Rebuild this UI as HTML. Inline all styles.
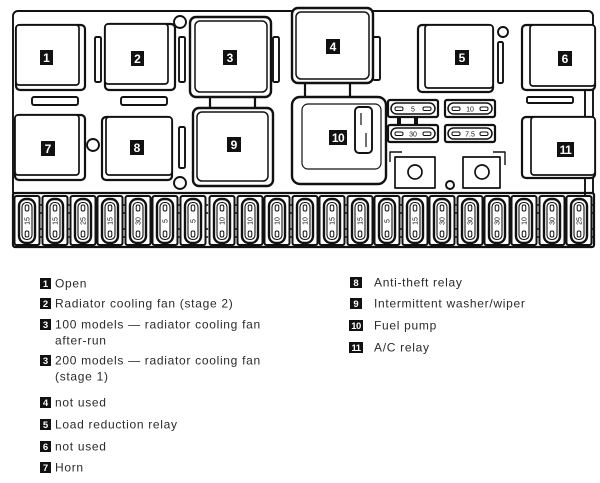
<!DOCTYPE html>
<html><head><meta charset="utf-8">
<style>
html,body{margin:0;padding:0;background:#fff;}
svg{display:block;}
.lg{font-family:"Liberation Sans",Arial,sans-serif;font-size:12px;fill:#2a2a2a;letter-spacing:0.7px;}
.lb{font-family:"Liberation Sans",Arial,sans-serif;font-weight:bold;fill:#fff;text-anchor:middle;}
.fz{font-family:"Liberation Sans",Arial,sans-serif;font-size:7px;fill:#111;text-anchor:middle;}
</style></head><body>
<svg width="600" height="483" viewBox="0 0 600 483" xmlns="http://www.w3.org/2000/svg">
<defs>
<g id="fuse">
  <rect x="-12.5" y="196" width="25" height="49" rx="2" fill="#fff" stroke="#111" stroke-width="2"/>
  <rect x="-8" y="199" width="16" height="44" rx="7" fill="#fff" stroke="#111" stroke-width="2.4"/>
  <rect x="-5" y="202.5" width="10" height="37" rx="4.5" fill="none" stroke="#111" stroke-width="1.1"/>
  <rect x="-1.8" y="205" width="3.6" height="6" rx="1.5" fill="none" stroke="#111" stroke-width="1"/>
  <rect x="-1.8" y="231" width="3.6" height="6" rx="1.5" fill="none" stroke="#111" stroke-width="1"/>
  <path d="M12.5,205h2.6M12.5,213h2.6M12.5,229h2.6M12.5,237h2.6" stroke="#111" stroke-width="1.6"/>
</g>
<g id="sfuse">
  <rect x="0" y="0" width="50" height="17" rx="2" fill="#fff" stroke="#111" stroke-width="2.2"/>
  <rect x="3" y="3" width="44" height="11" rx="5.5" fill="#fff" stroke="#111" stroke-width="1.5"/>
  <rect x="7" y="7" width="8" height="3.5" rx="1.5" fill="none" stroke="#111" stroke-width="1"/>
  <rect x="35" y="7" width="8" height="3.5" rx="1.5" fill="none" stroke="#111" stroke-width="1"/>
</g>
</defs>

<g fill="#fff" stroke="#111" stroke-width="1.9" stroke-linejoin="round">
  <!-- board -->
  <rect x="13" y="11" width="580" height="186" rx="5"/>
  <!-- fuse strip -->
  <rect x="13" y="193" width="581" height="54" rx="2" stroke-width="2.2"/>

  <!-- circles -->
  <circle cx="180" cy="22" r="6"/>
  <circle cx="93" cy="145" r="6"/>
  <circle cx="180" cy="183" r="6"/>
  <circle cx="503" cy="32" r="5"/>
  <circle cx="450" cy="185" r="4"/>

  <!-- slots -->
  <rect x="95" y="37" width="6" height="45" rx="1.5"/>
  <rect x="179" y="37" width="6" height="45" rx="1.5"/>
  <rect x="273" y="37" width="6" height="45" rx="1.5"/>
  <rect x="32" y="97" width="46" height="8" rx="2"/>
  <rect x="121" y="97" width="46" height="8" rx="2"/>
  <rect x="179" y="127" width="6" height="41" rx="1.5"/>
  <rect x="498" y="42" width="5" height="41" rx="1.5"/>
  <rect x="527" y="97" width="46" height="6" rx="1.5"/>
  <rect x="373" y="37" width="7" height="43" rx="1.5"/>
  <path d="M585,90 V117 M585,178 V195" fill="none"/>

  <!-- connectors -->
  <rect x="210" y="95" width="45" height="14" stroke-width="2.2"/>
  <rect x="305" y="81" width="45" height="17" stroke-width="2.2"/>

  <!-- relay 1 -->
  <rect x="16" y="25" width="69" height="65" rx="4" stroke-width="2.2"/>
  <rect x="16" y="25" width="63" height="60" rx="3" stroke-width="1.7"/>
  <!-- relay 2 -->
  <rect x="105" y="24" width="70" height="66" rx="4" stroke-width="2.2"/>
  <rect x="105" y="24" width="63" height="60" rx="3" stroke-width="1.7"/>
  <!-- relay 7 -->
  <rect x="15" y="115" width="70" height="65" rx="4" stroke-width="2.2"/>
  <rect x="15" y="115" width="64" height="60" rx="3" stroke-width="1.7"/>
  <!-- relay 8 -->
  <rect x="102" y="117" width="70" height="63" rx="4" stroke-width="2.2"/>
  <rect x="106" y="117" width="66" height="58" rx="3" stroke-width="1.7"/>
  <!-- relay 3 -->
  <rect x="190" y="17" width="81" height="80" rx="6" stroke-width="2.4"/>
  <rect x="195" y="21" width="72" height="71" rx="5" stroke-width="1.5"/>
  <!-- relay 9 -->
  <rect x="193" y="108" width="80" height="78" rx="6" stroke-width="2.4"/>
  <rect x="197" y="112" width="71" height="69" rx="5" stroke-width="1.5"/>
  <!-- relay 4 -->
  <rect x="292" y="8" width="81" height="75" rx="6" stroke-width="2.4"/>
  <rect x="296" y="12" width="73" height="67" rx="5" stroke-width="1.5"/>
  <!-- relay 10 -->
  <rect x="292" y="97" width="94" height="87" rx="8" stroke-width="2.4"/>
  <rect x="302" y="104" width="79" height="65" rx="6" stroke-width="1.2"/>
  <rect x="355" y="107" width="17" height="46" rx="4" stroke-width="1.9"/>
  <path d="M361,113 V125 M366,133 V147" fill="none" stroke-width="1.2"/>
  <!-- relay 5 -->
  <rect x="418" y="25" width="75" height="67" rx="4" stroke-width="2.2"/>
  <rect x="425" y="25" width="68" height="63" rx="3" stroke-width="1.7"/>
  <!-- relay 6 -->
  <rect x="522" y="25" width="73" height="65" rx="4" stroke-width="2.2"/>
  <rect x="530" y="25" width="65" height="61" rx="3" stroke-width="1.7"/>
  <!-- relay 11 -->
  <rect x="522" y="117" width="73" height="61" rx="4" stroke-width="2.2"/>
  <rect x="531" y="117" width="64" height="58" rx="3" stroke-width="1.7"/>

  <!-- sockets -->
  <rect x="395" y="157" width="40" height="31" stroke-width="1.7"/>
  <circle cx="415" cy="172" r="7" stroke-width="1.7"/>
  <rect x="463" y="157" width="37" height="31" stroke-width="1.7"/>
  <circle cx="482" cy="172" r="7" stroke-width="1.7"/>
  <path d="M402,152 H390 V162 M493,152 H505 V165" fill="none" stroke-width="1.4"/>
</g>

<!-- small fuses -->
<use href="#sfuse" x="388" y="100"/>
<use href="#sfuse" x="388" y="125"/>
<use href="#sfuse" x="445" y="100"/>
<use href="#sfuse" x="445" y="125"/>
<rect x="397" y="117" width="4" height="8" fill="#111"/>
<rect x="414" y="117" width="4" height="8" fill="#111"/>
<text class="fz" x="413" y="111.5">5</text>
<text class="fz" x="413" y="136.5">30</text>
<text class="fz" x="470" y="111.5">10</text>
<text class="fz" x="470" y="136.5">7.5</text>

<!-- fuses -->
<use href="#fuse" x="27"/><use href="#fuse" x="55"/><use href="#fuse" x="83"/>
<use href="#fuse" x="110"/><use href="#fuse" x="138"/><use href="#fuse" x="165"/>
<use href="#fuse" x="193"/><use href="#fuse" x="222"/><use href="#fuse" x="250"/>
<use href="#fuse" x="277"/><use href="#fuse" x="305"/><use href="#fuse" x="332"/>
<use href="#fuse" x="360"/><use href="#fuse" x="387"/><use href="#fuse" x="415"/>
<use href="#fuse" x="442"/><use href="#fuse" x="470"/><use href="#fuse" x="497"/>
<use href="#fuse" x="524"/><use href="#fuse" x="552"/><use href="#fuse" x="579"/>
<g class="fz">
<text transform="translate(29.5,221) rotate(-90)">15</text>
<text transform="translate(57.5,221) rotate(-90)">15</text>
<text transform="translate(85.5,221) rotate(-90)">25</text>
<text transform="translate(112.5,221) rotate(-90)">15</text>
<text transform="translate(140.5,221) rotate(-90)">30</text>
<text transform="translate(167.5,221) rotate(-90)">5</text>
<text transform="translate(195.5,221) rotate(-90)">5</text>
<text transform="translate(224.5,221) rotate(-90)">10</text>
<text transform="translate(252.5,221) rotate(-90)">10</text>
<text transform="translate(279.5,221) rotate(-90)">10</text>
<text transform="translate(307.5,221) rotate(-90)">10</text>
<text transform="translate(334.5,221) rotate(-90)">15</text>
<text transform="translate(362.5,221) rotate(-90)">15</text>
<text transform="translate(389.5,221) rotate(-90)">5</text>
<text transform="translate(417.5,221) rotate(-90)">15</text>
<text transform="translate(444.5,221) rotate(-90)">30</text>
<text transform="translate(472.5,221) rotate(-90)">30</text>
<text transform="translate(499.5,221) rotate(-90)">30</text>
<text transform="translate(526.5,221) rotate(-90)">10</text>
<text transform="translate(554.5,221) rotate(-90)">30</text>
<text transform="translate(581.5,221) rotate(-90)">25</text>
</g>

<!-- relay labels -->
<g fill="#111">
  <rect x="40" y="50" width="13" height="15"/>
  <rect x="131" y="51" width="13" height="15"/>
  <rect x="223" y="50" width="14" height="15"/>
  <rect x="326" y="39" width="14" height="15"/>
  <rect x="455" y="50" width="14" height="15"/>
  <rect x="558" y="51" width="14" height="15"/>
  <rect x="41" y="141" width="14" height="15"/>
  <rect x="130" y="140" width="14" height="15"/>
  <rect x="227" y="137" width="14" height="15"/>
  <rect x="329" y="130" width="18" height="15"/>
  <rect x="557" y="142" width="17" height="15"/>
</g>
<g class="lb" font-size="12">
  <text x="46.5" y="62">1</text>
  <text x="137.5" y="63">2</text>
  <text x="230" y="62">3</text>
  <text x="333" y="51">4</text>
  <text x="462" y="62">5</text>
  <text x="565" y="63">6</text>
  <text x="48" y="153">7</text>
  <text x="137" y="152">8</text>
  <text x="234" y="149">9</text>
  <text x="338" y="142" letter-spacing="-0.5">10</text>
  <text x="565.5" y="154" letter-spacing="-0.5">11</text>
</g>

<!-- legend squares -->
<g fill="#111">
  <rect x="40" y="278" width="11" height="11"/>
  <rect x="40" y="298" width="11" height="11"/>
  <rect x="40" y="319" width="11" height="11"/>
  <rect x="40" y="355" width="11" height="11"/>
  <rect x="40" y="397" width="11" height="11"/>
  <rect x="40" y="419" width="11" height="11"/>
  <rect x="40" y="441" width="11" height="11"/>
  <rect x="40" y="462" width="11" height="11"/>
  <rect x="350" y="277" width="12" height="11"/>
  <rect x="350" y="298" width="12" height="11"/>
  <rect x="349" y="320" width="14" height="11"/>
  <rect x="349" y="342" width="14" height="11"/>
</g>
<g class="lb" font-size="9.5">
  <text x="45.5" y="286.8">1</text>
  <text x="45.5" y="306.8">2</text>
  <text x="45.5" y="327.8">3</text>
  <text x="45.5" y="363.8">3</text>
  <text x="45.5" y="405.8">4</text>
  <text x="45.5" y="427.8">5</text>
  <text x="45.5" y="449.8">6</text>
  <text x="45.5" y="470.8">7</text>
  <text x="356" y="285.8">8</text>
  <text x="356" y="306.8">9</text>
  <text x="356" y="328.8" letter-spacing="-0.5">10</text>
  <text x="356" y="350.8" letter-spacing="-0.5">11</text>
</g>

<!-- legend text -->
<g class="lg">
  <text x="55" y="287.5">Open</text>
  <text x="55" y="307.5">Radiator cooling fan (stage 2)</text>
  <text x="55" y="328.5">100 models — radiator cooling fan</text>
  <text x="55" y="344.5">after-run</text>
  <text x="55" y="364.5">200 models — radiator cooling fan</text>
  <text x="55" y="380.5">(stage 1)</text>
  <text x="55" y="406.5">not used</text>
  <text x="55" y="428.5">Load reduction relay</text>
  <text x="55" y="450.5">not used</text>
  <text x="55" y="471.5">Horn</text>
  <text x="374" y="286.5">Anti-theft relay</text>
  <text x="374" y="307.5">Intermittent washer/wiper</text>
  <text x="374" y="329.5">Fuel pump</text>
  <text x="374" y="351.5">A/C relay</text>
</g>
</svg>
</body></html>
